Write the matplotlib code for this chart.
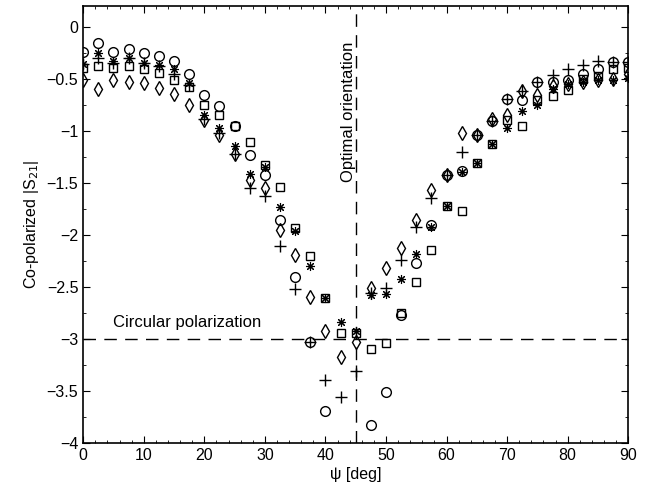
import numpy as np
import matplotlib.pyplot as plt
from matplotlib.ticker import MultipleLocator

plt.rcParams['font.family'] = ['Liberation Sans', 'DejaVu Sans']

# angle psi [deg]
psi = np.arange(0, 90.1, 2.5)

nan = np.nan
circle = [-0.24, -0.16, -0.24, -0.21, -0.25, -0.28, -0.33, -0.45, -0.66, -0.76,
          -0.95, -1.23, -1.42, -1.86, -2.40, -3.03, -3.69, nan, nan, -3.83,
          -3.51, -2.77, -2.27, -1.90, -1.42, -1.39, -1.04, -0.91, -0.69, -0.70,
          -0.53, -0.53, -0.51, -0.45, -0.41, -0.34, -0.34]
aster = [-0.36, -0.25, -0.33, -0.30, -0.35, -0.37, -0.41, -0.54, -0.85, -0.97,
         -1.15, -1.41, -1.35, -1.73, -1.96, -2.30, -2.61, -2.84, -2.92, -2.58,
         -2.57, -2.42, -2.18, -1.92, -1.72, -1.40, -1.31, -1.13, -0.97, -0.81,
         -0.75, -0.60, -0.55, -0.53, -0.51, -0.51, -0.49]
square = [-0.40, -0.38, -0.40, -0.38, -0.41, -0.44, -0.51, -0.58, -0.75, -0.85,
          -0.95, -1.11, -1.33, -1.54, -1.93, -2.20, -2.61, -2.94, -2.94, -3.10,
          -3.04, -2.75, -2.45, -2.14, -1.72, -1.77, -1.31, -1.13, -0.90, -0.95,
          -0.70, -0.67, -0.61, -0.50, -0.47, -0.41, -0.40]
diamond = [-0.51, -0.60, -0.51, -0.53, -0.54, -0.59, -0.65, -0.75, -0.90, -1.04,
           -1.22, -1.47, -1.55, -1.95, -2.19, -2.60, -2.92, -3.17, -3.03, -2.51,
           -2.32, -2.13, -1.86, -1.57, -1.42, -1.02, -1.04, -0.89, -0.85, -0.62,
           -0.66, -0.57, -0.55, -0.53, -0.51, -0.50, -0.45]
plus = [-0.36, -0.30, -0.35, -0.30, -0.35, -0.38, -0.45, -0.56, -0.89, -1.02,
        -1.22, -1.55, -1.63, -2.11, -2.52, -3.03, -3.39, -3.56, -3.31, -2.56,
        -2.51, -2.24, -1.92, -1.65, -1.42, -1.20, -1.04, -0.91, -0.69, -0.62,
        -0.53, -0.46, -0.41, -0.37, -0.33, -0.34, -0.34]

fig = plt.figure(figsize=(6.45, 4.94), dpi=100)
ax = fig.add_axes([0.129, 0.103, 0.845, 0.885])

kw = dict(linestyle='none', color='black', markerfacecolor='none', markeredgewidth=1.0)
ax.plot(psi, circle, marker='o', markersize=7, **kw)
ax.plot(psi, aster, marker=(8, 2, 0), markersize=6.5, color='black',
        linestyle='none', markeredgewidth=0.8)
ax.plot(psi, square, marker='s', markersize=5.5, **kw)
ax.plot(psi, diamond, marker='d', markersize=7.5, **kw)
ax.plot(psi, plus, marker='+', markersize=8, **kw)

# reference lines
ax.plot([0, 90], [-3, -3], color='black', linestyle=(0, (9, 6)), linewidth=1)
ax.plot([45, 45], [-4, 0.2], color='black', linestyle=(0, (9, 6)), linewidth=1)
ax.text(5, -2.88, 'Circular polarization', fontsize=12)
ax.text(43.8, -0.82, 'Optimal orientation', fontsize=12, rotation=90,
        ha='center', va='center')

ax.set_xlim(0, 90)
ax.set_ylim(-4, 0.2)
ax.xaxis.set_major_locator(MultipleLocator(10))
ax.xaxis.set_minor_locator(MultipleLocator(2))
ax.yaxis.set_minor_locator(MultipleLocator(0.25))
ax.set_yticks(np.arange(-4, 0.01, 0.5))
ax.set_yticklabels(['−4', '−3.5', '−3', '−2.5', '−2', '−1.5', '−1', '−0.5', '0'])
ax.tick_params(which='both', direction='in', top=True, right=True, labelsize=11.5)
ax.tick_params(which='major', length=5)
ax.tick_params(which='minor', length=2.5)
for s in ax.spines.values():
    s.set_linewidth(1.2)

ax.set_xlabel('ψ [deg]', fontsize=11.5, labelpad=3)
ax.set_ylabel('Co-polarized |S$_{21}$|', fontsize=11.5, labelpad=4)

fig.savefig('out.png', dpi=100)
